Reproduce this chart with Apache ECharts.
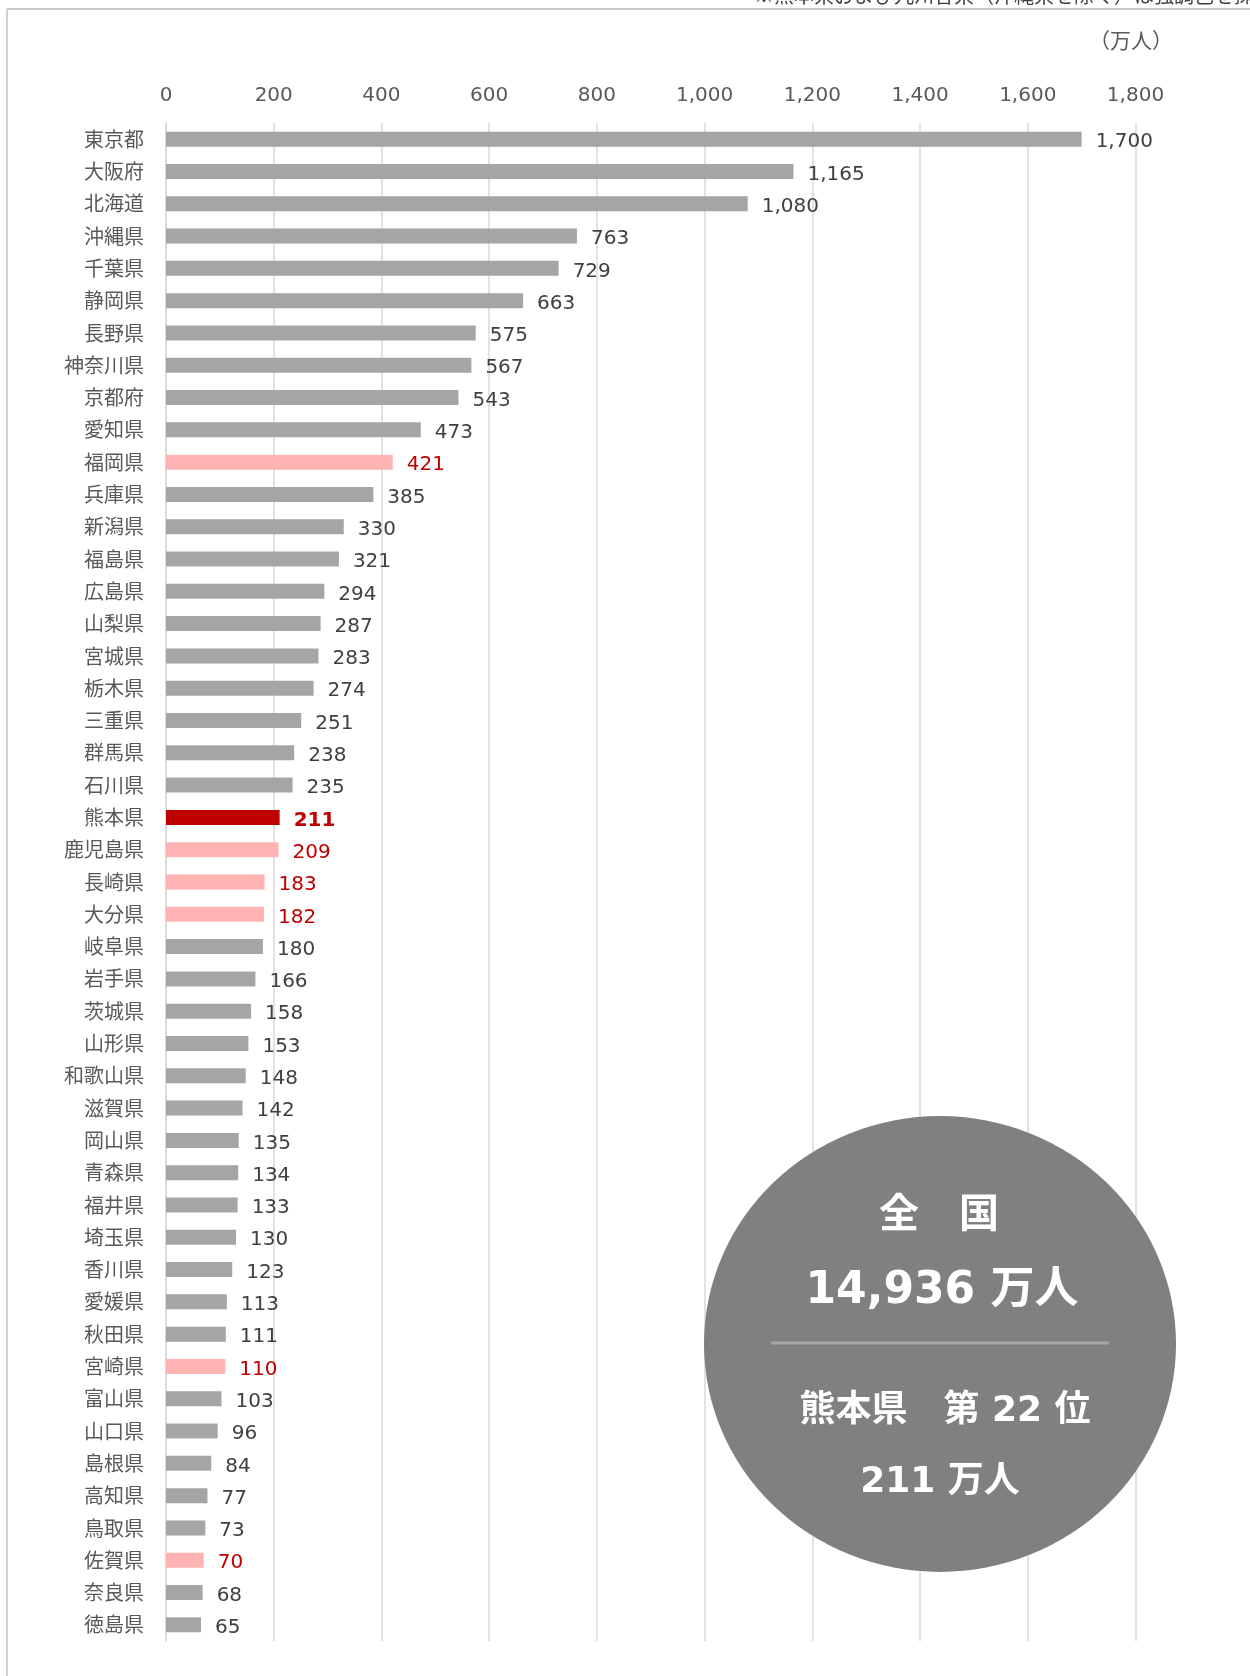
<!DOCTYPE html>
<html>
<head>
<meta charset="utf-8">
<script src="https://cdn.jsdelivr.net/npm/echarts@6/dist/echarts.min.js"></script>
<style>
  html, body { margin: 0; padding: 0; background: #fff; }
  #chart { width: 1250px; height: 1676px; }
</style>
</head>
<body>
<div id="chart"></div>
<script>
// 都道府県別 延べ宿泊者数（万人）
const prefectures = [
  '東京都', '大阪府', '北海道', '沖縄県', '千葉県', '静岡県', '長野県', '神奈川県',
  '京都府', '愛知県', '福岡県', '兵庫県', '新潟県', '福島県', '広島県', '山梨県',
  '宮城県', '栃木県', '三重県', '群馬県', '石川県', '熊本県', '鹿児島県', '長崎県',
  '大分県', '岐阜県', '岩手県', '茨城県', '山形県', '和歌山県', '滋賀県', '岡山県',
  '青森県', '福井県', '埼玉県', '香川県', '愛媛県', '秋田県', '宮崎県', '富山県',
  '山口県', '島根県', '高知県', '鳥取県', '佐賀県', '奈良県', '徳島県'
]
const visitors = [
  1700, 1165, 1080, 763, 729, 663, 575, 567,
  543, 473, 421, 385, 330, 321, 294, 287,
  283, 274, 251, 238, 235, 211, 209, 183,
  182, 180, 166, 158, 153, 148, 142, 135,
  134, 133, 130, 123, 113, 111, 110, 103,
  96, 84, 77, 73, 70, 68, 65
]
// 九州各県（沖縄県を除く）と熊本県
const kyushuPrefs = ['福岡県', '鹿児島県', '長崎県', '大分県', '宮崎県', '佐賀県']
const focusPref = '熊本県'

const axisMin = 0
const axisMax = 1800
const axisStep = 200

const unitLabel = '（万人）'
const noteText = '※熊本県および九州各県（沖縄県を除く）は強調色を採用'
const totalTitle = '全　国'
const totalValue = 14936
const focusRank = 22
const focusValue = 211

const GRAY = '#a5a5a5'
const PINK = '#ffb3b3'
const RED = '#c00000'
const GRID_LINE = '#d9d9d9'
const TEXT = '#595959'
const NUM_FONT = '"DejaVu Sans", "Noto Sans CJK JP", sans-serif'
const JP_FONT = '"Noto Sans CJK JP", sans-serif'

const fmt = (v) => v.toLocaleString('en-US')

function barItem(name, value) {
  if (name === focusPref) {
    return {
      value,
      itemStyle: { color: RED },
      label: { color: RED, fontWeight: 'bold' }
    }
  }
  if (kyushuPrefs.includes(name)) {
    return {
      value,
      itemStyle: { color: PINK },
      label: { color: RED }
    }
  }
  return { value, itemStyle: { color: GRAY } }
}

function whiteText(x, y, text, font) {
  return {
    type: 'text',
    z: 101,
    x,
    y,
    style: { text, font, fill: '#fff', align: 'center', verticalAlign: 'middle' }
  }
}

const chart = echarts.init(document.getElementById('chart'))

const option = {
  backgroundColor: '#fff',
  animation: false,
  grid: {
    left: 166,
    right: 114.5,
    top: 123,
    bottom: 35
  },
  xAxis: {
    type: 'value',
    position: 'top',
    min: axisMin,
    max: axisMax,
    interval: axisStep,
    axisLine: { show: false },
    axisTick: { show: false },
    axisLabel: {
      color: TEXT,
      fontSize: 20,
      fontFamily: NUM_FONT,
      margin: 17,
      formatter: (v) => fmt(v)
    },
    splitLine: { lineStyle: { color: GRID_LINE, width: 1.5 } }
  },
  yAxis: {
    type: 'category',
    inverse: true,
    data: prefectures,
    axisLine: { show: true, lineStyle: { color: GRID_LINE, width: 1.5 } },
    axisTick: { show: false },
    axisLabel: {
      color: TEXT,
      fontSize: 20,
      fontFamily: JP_FONT,
      margin: 22
    }
  },
  series: [
    {
      type: 'bar',
      barWidth: 15,
      data: prefectures.map((p, i) => barItem(p, visitors[i])),
      label: {
        show: true,
        position: 'right',
        distance: 14,
        offset: [0, 3],
        color: '#404040',
        fontSize: 20,
        fontFamily: NUM_FONT,
        formatter: (p) => fmt(p.value)
      }
    }
  ],
  graphic: [
    // frame
    {
      type: 'line',
      z: 50,
      shape: { x1: 7, y1: 9, x2: 1250, y2: 9 },
      style: { stroke: '#c8c8c8', lineWidth: 2 }
    },
    {
      type: 'line',
      z: 50,
      shape: { x1: 7, y1: 9, x2: 7, y2: 1676 },
      style: { stroke: '#d0d0d0', lineWidth: 2 }
    },
    {
      type: 'text',
      z: 50,
      left: 754,
      top: -15,
      style: { text: noteText, font: '20px ' + JP_FONT, fill: '#404040' }
    },
    {
      type: 'text',
      z: 50,
      x: 1131,
      y: 40,
      style: {
        text: unitLabel,
        font: '21px ' + JP_FONT,
        fill: TEXT,
        align: 'center',
        verticalAlign: 'middle'
      }
    },
    // summary circle
    {
      type: 'circle',
      z: 100,
      x: 940,
      y: 1344,
      scaleY: 0.966,
      shape: { cx: 0, cy: 0, r: 236 },
      style: { fill: '#808080' }
    },
    whiteText(939, 1212, totalTitle, 'bold 40px ' + JP_FONT),
    whiteText(942, 1292, fmt(totalValue) + ' 万人', 'bold 44px ' + NUM_FONT),
    {
      type: 'line',
      z: 101,
      shape: { x1: 771, y1: 1343, x2: 1109, y2: 1343 },
      style: { stroke: '#a6a6a6', lineWidth: 3 }
    },
    whiteText(945, 1412, focusPref + '　第 ' + focusRank + ' 位', 'bold 36px ' + NUM_FONT),
    whiteText(940, 1483, focusValue + ' 万人', 'bold 36px ' + NUM_FONT)
  ]
}

chart.setOption(option)
</script>
</body>
</html>
